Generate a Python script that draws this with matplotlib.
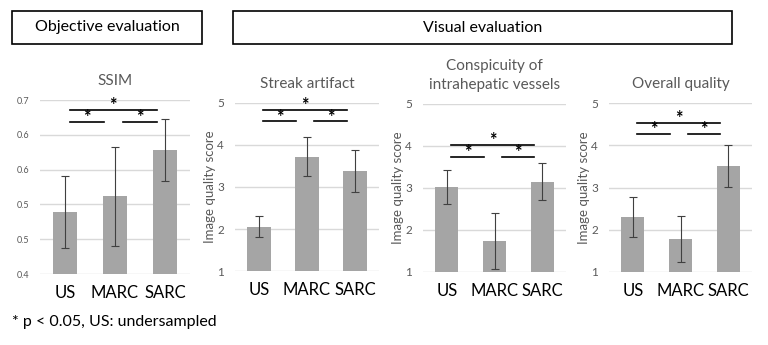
import numpy as np
import matplotlib as mpl
import matplotlib.pyplot as plt
from matplotlib.patches import Rectangle

mpl.rcParams['font.family'] = ['Lato', 'DejaVu Sans']

# data
groups = ['US', 'MARC', 'SARC']
titles = ['SSIM', 'Streak artifact', 'Conspicuity of\nintrahepatic vessels', 'Overall quality']
ssim_mean = [0.507, 0.534, 0.614]
ssim_err = [0.062, 0.085, 0.054]
streak_mean = [2.05, 3.72, 3.39]
streak_err = [0.25, 0.46, 0.50]
consp_mean = [3.03, 1.74, 3.15]
consp_err = [0.40, 0.67, 0.44]
overall_mean = [2.30, 1.78, 3.51]
overall_err = [0.47, 0.55, 0.50]
# height of the significance brackets (upper, lower) per panel
sig_y = [(0.683, 0.662), (4.84, 4.56), (4.02, 3.74), (4.53, 4.26)]

means = [ssim_mean, streak_mean, consp_mean, overall_mean]
errs = [ssim_err, streak_err, consp_err, overall_err]

W, H = 768, 345
fig = plt.figure(figsize=(W/100, H/100), dpi=100)

def px_axes(x0, x1, ytop, ybot):
    return fig.add_axes([x0/W, 1-ybot/H, (x1-x0)/W, (ybot-ytop)/H])

# axes positions in pixels (left, right, top gridline, bottom gridline)
boxes = [(40, 190, 100, 274), (235, 379, 103, 271), (423, 566, 104, 272), (609, 752, 103, 272)]
grey = '#595959'

for i, (x0, x1, yt, yb) in enumerate(boxes):
    ax = px_axes(x0, x1, yt, yb)
    x = np.arange(len(groups))
    ax.bar(x, means[i], width=0.48, color='#a5a5a5', zorder=2)
    ax.errorbar(x, means[i], yerr=errs[i], fmt='none', ecolor='#404040',
                elinewidth=0.8, capsize=3, capthick=0.8, zorder=3)
    ax.set_xlim(-0.5, 2.5)
    if i == 0:
        ax.set_ylim(0.4, 0.7)
        ax.set_yticks(np.arange(0.4, 0.701, 0.06))
        ax.set_yticklabels(['%.1f' % t for t in np.arange(0.4, 0.701, 0.06)])
    else:
        ax.set_ylim(1, 5)
        ax.set_yticks([1, 2, 3, 4, 5])
        ax.set_ylabel('Image quality score', fontsize=9.5, color=grey, labelpad=1)
    ax.grid(axis='y', color='#d9d9d9', linewidth=1, zorder=0)
    for s in ax.spines.values():
        s.set_visible(False)
    ax.tick_params(axis='y', length=0, labelsize=8.5 if i else 6.5, labelcolor=grey, pad=8)
    ax.tick_params(axis='x', length=0, labelsize=12, labelcolor='black', pad=8)
    ax.set_xticks(x)
    ax.set_xticklabels(groups)
    ax.set_title(titles[i], fontsize=11, color=grey, pad=11, linespacing=1.45)

    # significance brackets
    yu, yl = sig_y[i]
    for (a, b, yy) in [(0.09, 1.83, yu), (0.09, 0.78, yl), (1.15, 1.83, yl)]:
        ax.plot([a, b], [yy, yy], color='black', lw=1.2, clip_on=False, zorder=4)
        ax.annotate('*', xy=((a+b)/2, yy), xytext=(0, -3), textcoords='offset points',
                    ha='center', va='bottom', fontsize=13, fontweight='bold',
                    annotation_clip=False)

# header boxes
for (x0, x1, txt) in [(12, 202, 'Objective evaluation'), (233, 732, 'Visual evaluation')]:
    fig.patches.append(Rectangle((x0/W, 1-44/H), (x1-x0)/W, 33/H, transform=fig.transFigure,
                                 fill=False, edgecolor='black', lw=1.2))
    fig.text((x0+x1)/2/W, 1-27.5/H, txt, ha='center', va='center', fontsize=11.5)

fig.text(12/W, 1-322/H, '* p < 0.05, US: undersampled', ha='left', va='center', fontsize=11.5)

fig.savefig('out.png', dpi=100)
